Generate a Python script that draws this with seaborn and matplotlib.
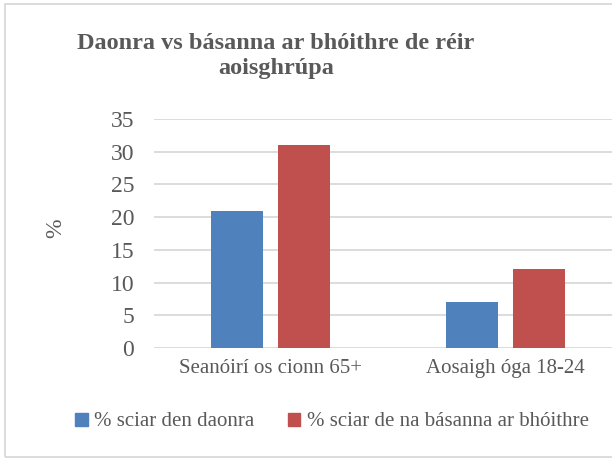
import pandas as pd
import numpy as np
import matplotlib.pyplot as plt
import matplotlib.patches as mpatches
import seaborn as sns

categories = ['Seanóirí os cionn 65+', 'Aosaigh óga 18-24']
series_names = ['% sciar den daonra', '% sciar de na básanna ar bhóithre']
population_share = [21, 7]
road_death_share = [31, 12]
colors = ['#4F81BD', '#C0504D']

df = pd.DataFrame({
    'group': categories * 2,
    'series': [series_names[0]] * 2 + [series_names[1]] * 2,
    'value': population_share + road_death_share,
})

sns.set_style('white')
plt.rcParams['font.family'] = ['Liberation Serif', 'DejaVu Serif']
text_color = '#595959'
grid_color = '#D9D9D9'

fig = plt.figure(figsize=(6.12, 4.59), dpi=100)
ax = fig.add_axes([153.5 / 612, 111 / 459, 469 / 612, 229 / 459])

sns.barplot(data=df, x='group', y='value', hue='series', palette=colors,
            width=0.571, gap=0.222, saturation=1, ax=ax, legend=False,
            edgecolor='none')

ax.set_xlim(-0.5, 1.5)
ax.set_ylim(0, 35)
ax.set_yticks(range(0, 36, 5))
ax.yaxis.grid(True, color=grid_color, lw=1.3)
ax.set_axisbelow(True)
for s in ax.spines.values():
    s.set_visible(False)
ax.tick_params(axis='y', labelsize=17, colors=text_color, length=0, pad=14)
ax.tick_params(axis='x', labelsize=15, colors=text_color, length=0, pad=8)
ax.set_xlabel('')
ax.set_ylabel('')
fig.text(56 / 612, 1 - 228 / 459, '%', rotation=90, ha='center', va='center',
         fontsize=17, color=text_color)

fig.text(276 / 612, 1 - 56 / 459, 'Daonra vs básanna ar bhóithre de réir\naoisghrúpa',
         ha='center', va='center', multialignment='center', fontsize=17.5,
         fontweight='bold', color=text_color, linespacing=1.3)

handles = [mpatches.Patch(color=c, label=n) for c, n in zip(colors, series_names)]
fig.legend(handles=handles, loc='center', bbox_to_anchor=(332 / 612, 1 - 422 / 459),
           ncol=2, frameon=False, fontsize=15, handlelength=0.6, handleheight=0.6,
           handletextpad=0.3, columnspacing=1.6, labelcolor=text_color)

border = mpatches.Rectangle((5 / 612, 2 / 459), 1.0, 453 / 459, transform=fig.transFigure,
                            fill=False, edgecolor=grid_color, lw=1.3)
fig.patches.append(border)

fig.savefig('out.png', dpi=100)
